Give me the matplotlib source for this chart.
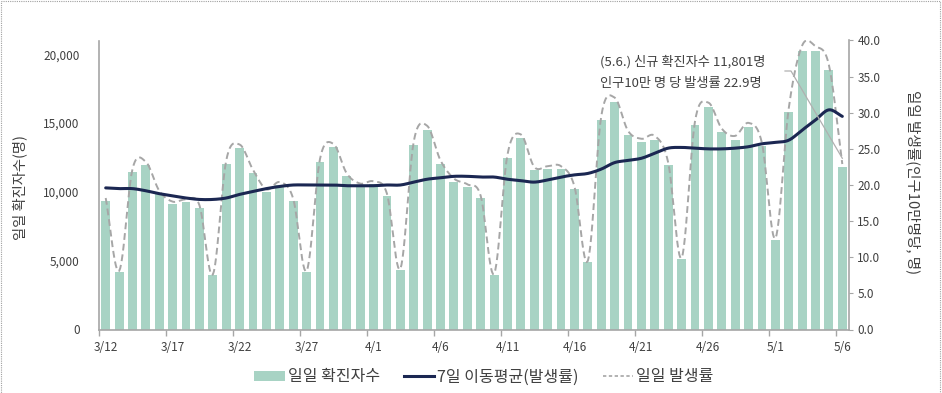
import numpy as np
import matplotlib
matplotlib.use("Agg")
import matplotlib.pyplot as plt
from matplotlib.lines import Line2D
from matplotlib.patches import Patch, Rectangle

plt.rcParams['font.family'] = ['Noto Sans CJK KR', 'DejaVu Sans']

dates = ["3/12","3/13","3/14","3/15","3/16","3/17","3/18","3/19","3/20","3/21",
         "3/22","3/23","3/24","3/25","3/26","3/27","3/28","3/29","3/30","3/31",
         "4/1","4/2","4/3","4/4","4/5","4/6","4/7","4/8","4/9","4/10",
         "4/11","4/12","4/13","4/14","4/15","4/16","4/17","4/18","4/19","4/20",
         "4/21","4/22","4/23","4/24","4/25","4/26","4/27","4/28","4/29","4/30",
         "5/1","5/2","5/3","5/4","5/5","5/6"]

daily_cases = [9370, 4190, 11410, 11970, 9900, 9120, 9290, 8860, 3940, 12040,
               13190, 11360, 9980, 10510, 9340, 4190, 12140, 13260, 11120, 10390,
               10580, 9710, 4310, 13410, 14530, 12040, 10750, 10340, 9540, 3990,
               12480, 13920, 11610, 11650, 11650, 10220, 4920, 15210, 16520, 14160,
               13600, 13800, 11920, 5090, 14870, 16180, 14330, 13800, 14720, 13310,
               6500, 15790, 20240, 20220, 18860, 11801]

daily_rate = [18.2, 8.1, 22.2, 23.2, 19.2, 17.7, 18.0, 17.2, 7.6, 23.4,
              25.6, 22.1, 19.4, 20.4, 18.1, 8.1, 23.6, 25.7, 21.6, 20.2,
              20.5, 18.8, 8.4, 26.0, 28.2, 23.4, 20.9, 20.1, 18.5, 7.7,
              24.2, 27.0, 22.5, 22.6, 22.6, 19.8, 9.5, 29.5, 32.1, 27.5,
              26.4, 26.8, 23.1, 9.9, 28.8, 31.4, 27.8, 26.8, 28.6, 25.8,
              12.6, 30.6, 39.3, 39.2, 36.6, 22.9]

ma7_rate = [19.6, 19.5, 19.5, 19.2, 18.8, 18.5, 18.2, 18.0, 18.0, 18.2,
            18.7, 19.1, 19.5, 19.8, 20.0, 20.0, 20.0, 20.0, 19.9, 19.9,
            19.9, 20.0, 20.0, 20.4, 20.8, 21.0, 21.2, 21.2, 21.1, 21.1,
            20.8, 20.6, 20.4, 20.7, 21.1, 21.4, 21.6, 22.2, 23.1, 23.4,
            23.7, 24.4, 25.1, 25.2, 25.1, 25.0, 25.0, 25.1, 25.3, 25.7,
            25.9, 26.2, 27.6, 29.0, 30.4, 29.5]

label_every = 5
left_ticks = [0, 5000, 10000, 15000, 20000]
right_ticks = [0, 5, 10, 15, 20, 25, 30, 35, 40]

bar_color = "#A8D3C4"
ma_color = "#1B2752"
rate_color = "#A6A6A6"
axis_color = "#A6A6A6"
text_color = "#404040"

W, H = 942, 393


def smooth(x, y, n=12):
    # Excel-like smoothed line (cubic Bezier through the points)
    x = np.asarray(x, float); y = np.asarray(y, float)
    px = np.concatenate([[2 * x[0] - x[1]], x, [2 * x[-1] - x[-2]]])
    py = np.concatenate([[2 * y[0] - y[1]], y, [2 * y[-1] - y[-2]]])
    xs, ys = [], []
    t = np.linspace(0, 1, n, endpoint=False)
    for i in range(1, len(px) - 2):
        p0, p1, p2, p3 = py[i - 1], py[i], py[i + 1], py[i + 2]
        q0, q1, q2, q3 = px[i - 1], px[i], px[i + 1], px[i + 2]
        b1y = p1 + (p2 - p0) / 6; b2y = p2 - (p3 - p1) / 6
        b1x = q1 + (q2 - q0) / 6; b2x = q2 - (q3 - q1) / 6
        bx = (1 - t) ** 3 * q1 + 3 * (1 - t) ** 2 * t * b1x + 3 * (1 - t) * t ** 2 * b2x + t ** 3 * q2
        by = (1 - t) ** 3 * p1 + 3 * (1 - t) ** 2 * t * b1y + 3 * (1 - t) * t ** 2 * b2y + t ** 3 * p2
        xs.extend(bx); ys.extend(by)
    xs.append(x[-1]); ys.append(y[-1])
    return np.array(xs), np.array(ys)


fig = plt.figure(figsize=(W / 100, H / 100), dpi=100)
ax = fig.add_axes([99 / W, 1 - 329.5 / H, (849 - 99) / W, (329.5 - 40.5) / H])
ax2 = ax.twinx()

x = np.arange(len(dates))
ax.bar(x, daily_cases, width=0.66, color=bar_color, zorder=1)
ax.set_xlim(-0.5, len(dates) - 0.5)
ax.set_ylim(0, 21000)
ax.set_yticks(left_ticks)
ax.set_yticklabels([f"{v:,}" for v in left_ticks])
ax.tick_params(axis='y', length=0, labelsize=8.5, labelcolor=text_color, pad=14)

lbl_idx = list(range(0, len(dates), label_every))
ax.set_xticks(lbl_idx)
ax.set_xticklabels([dates[i] for i in lbl_idx])
ax.set_xticks([i - 0.5 for i in lbl_idx], minor=True)
ax.tick_params(axis='x', which='major', length=0, labelsize=8.5, labelcolor=text_color, pad=8)
ax.tick_params(axis='x', which='minor', length=4, color=axis_color, width=1)

sx, sy = smooth(x, daily_rate)
ax2.plot(sx, sy, color=rate_color, lw=1.4, ls=(0, (3.5, 2)), zorder=3)
mx, my = smooth(x, ma7_rate)
ax2.plot(mx, my, color=ma_color, lw=2.2, zorder=4, solid_capstyle='round')
ax2.set_ylim(0, 40)
ax2.set_yticks(right_ticks)
ax2.set_yticklabels([f"{v:.1f}" for v in right_ticks])
ax2.tick_params(axis='y', length=3, color=axis_color, labelsize=8.5, labelcolor=text_color, pad=3)

for a in (ax, ax2):
    a.spines['top'].set_visible(False)
    for s in ('left', 'right', 'bottom'):
        a.spines[s].set_color(axis_color)
        a.spines[s].set_linewidth(1.2)
ax.spines['right'].set_visible(False)
ax2.spines['left'].set_visible(False)
ax2.spines['bottom'].set_visible(False)

fig.text(20 / W, 1 - 187 / H, "일일 확진자수(명)", rotation=90, ha='center', va='center',
         fontsize=10.3, color=text_color)
fig.text(913 / W, 1 - 182 / H, "일일 발생률(인구10만명당, 명)", rotation=-90, ha='center', va='center',
         fontsize=10.5, color=text_color)

# annotation
fig.text(600 / W, 1 - 62 / H, "(5.6.) 신규 확진자수 11,801명", ha='left', va='center',
         fontsize=9.5, color=text_color)
fig.text(600 / W, 1 - 84 / H, "인구10만 명 당 발생률 22.9명", ha='left', va='center',
         fontsize=9.5, color=text_color)

# leader line from the annotation to the last point
last = len(dates) - 1
tx, ty = ax2.transData.transform((last, daily_rate[-1] + 0.8))
fx, fy = fig.transFigure.inverted().transform((tx, ty))
leader = Line2D([785 / W, 791 / W, fx], [1 - 71 / H, 1 - 71 / H, fy], transform=fig.transFigure,
                color='#B0B0B0', lw=0.9, zorder=5)
fig.lines.append(leader)

handles = [Patch(facecolor=bar_color, edgecolor='none'),
           Line2D([], [], color=ma_color, lw=2.2),
           Line2D([], [], color=rate_color, lw=1.2, ls=(0, (2, 1.5)))]
labels = ["일일 확진자수", "7일 이동평균(발생률)", "일일 발생률"]
fig.legend(handles, labels, loc='center', bbox_to_anchor=(484 / W, 1 - 377 / H), ncol=3,
           frameon=False, fontsize=11.5, handlelength=1.9, handleheight=0.55, columnspacing=1.5,
           handletextpad=0.2, labelcolor=text_color)

# dotted frame
frame = Rectangle((1 / W, -0.01), 939 / W, 1.0 - 1 / H + 0.01, transform=fig.transFigure,
                  fill=False, ec='#A0A0A0', lw=0.8, ls=(0, (1, 1)))
fig.patches.append(frame)

fig.savefig("out.png", dpi=100)
